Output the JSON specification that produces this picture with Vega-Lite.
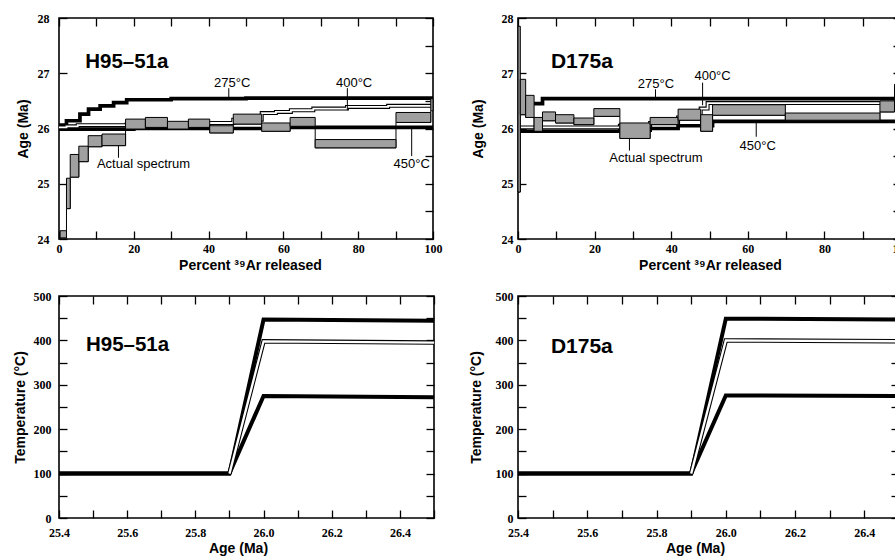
{
  "$schema": "https://vega.github.io/schema/vega-lite/v6.json",
  "padding": {"left": 12, "top": 11, "right": 0, "bottom": 0},
  "config": {
    "view": {"stroke": "black", "strokeWidth": 1.6},
    "font": "Liberation Sans",
    "axis": {"domain": false, "grid": false, "ticks": true, "tickSize": -8, "tickColor": "black", "tickWidth": 1.3,
      "labelFont": "Liberation Sans Narrow", "labelFontWeight": "bold", "labelFontSize": 12, "labelColor": "black",
      "labelFlush": false, "labelOverlap": false,
      "titleFont": "Liberation Sans", "titleFontWeight": "bold", "titleFontSize": 14, "titleColor": "black"},
    "text": {"font": "Liberation Sans", "color": "black"}
  },
  "datasets": {
    "h_models": [
      {"model": "275", "pct": 0, "age": 26.06}, {"model": "275", "pct": 2, "age": 26.14}, {"model": "275", "pct": 5.6, "age": 26.26},
      {"model": "275", "pct": 7.9, "age": 26.35}, {"model": "275", "pct": 11, "age": 26.41}, {"model": "275", "pct": 14.6, "age": 26.47},
      {"model": "275", "pct": 18.1, "age": 26.52}, {"model": "275", "pct": 30, "age": 26.54}, {"model": "275", "pct": 50, "age": 26.55},
      {"model": "275", "pct": 100, "age": 26.55},
      {"model": "400", "pct": 0, "age": 26.02}, {"model": "400", "pct": 2, "age": 26.04}, {"model": "400", "pct": 5, "age": 26.06},
      {"model": "400", "pct": 18, "age": 26.07}, {"model": "400", "pct": 30, "age": 26.08}, {"model": "400", "pct": 40, "age": 26.1},
      {"model": "400", "pct": 46.6, "age": 26.16}, {"model": "400", "pct": 54.2, "age": 26.28}, {"model": "400", "pct": 58, "age": 26.3},
      {"model": "400", "pct": 62, "age": 26.33}, {"model": "400", "pct": 68, "age": 26.36}, {"model": "400", "pct": 77, "age": 26.39},
      {"model": "400", "pct": 88, "age": 26.41}, {"model": "400", "pct": 100, "age": 26.43},
      {"model": "450", "pct": 0, "age": 25.99}, {"model": "450", "pct": 20, "age": 26.0}, {"model": "450", "pct": 60, "age": 26.02},
      {"model": "450", "pct": 100, "age": 26.01}
    ],
    "h_spec": [
      {"x1": 0.3, "x2": 2.0, "lo": 24.02, "hi": 24.15}, {"x1": 2.0, "x2": 3.0, "lo": 24.55, "hi": 25.1},
      {"x1": 3.0, "x2": 5.3, "lo": 25.12, "hi": 25.53}, {"x1": 5.3, "x2": 7.8, "lo": 25.4, "hi": 25.68},
      {"x1": 7.8, "x2": 11.5, "lo": 25.67, "hi": 25.87}, {"x1": 11.5, "x2": 17.8, "lo": 25.69, "hi": 25.9},
      {"x1": 17.8, "x2": 23.1, "lo": 25.99, "hi": 26.17}, {"x1": 23.1, "x2": 29.0, "lo": 26.02, "hi": 26.2},
      {"x1": 29.0, "x2": 34.6, "lo": 25.99, "hi": 26.13}, {"x1": 34.6, "x2": 40.3, "lo": 26.02, "hi": 26.17},
      {"x1": 40.3, "x2": 46.6, "lo": 25.92, "hi": 26.05}, {"x1": 46.6, "x2": 54.2, "lo": 26.08, "hi": 26.26},
      {"x1": 54.2, "x2": 61.8, "lo": 25.95, "hi": 26.1}, {"x1": 61.8, "x2": 68.5, "lo": 26.04, "hi": 26.2},
      {"x1": 68.5, "x2": 90.1, "lo": 25.65, "hi": 25.8}, {"x1": 90.1, "x2": 99.4, "lo": 26.11, "hi": 26.29},
      {"x1": 99.4, "x2": 100, "lo": 26.32, "hi": 26.54}
    ],
    "h_ptr": [
      {"pct": 45.4, "a1": 26.73, "a2": 26.57}, {"pct": 77.1, "a1": 26.73, "a2": 26.33},
      {"pct": 94.3, "a1": 25.99, "a2": 25.5}, {"pct": 15.9, "a1": 25.69, "a2": 25.47}
    ],
    "h_labels": [
      {"pct": 46.3, "age": 26.82, "label": "275°C"}, {"pct": 78.9, "age": 26.82, "label": "400°C"},
      {"pct": 94.3, "age": 25.35, "label": "450°C"}, {"pct": 22.6, "age": 25.35, "label": "Actual spectrum"}
    ],
    "h_title": [{"pct": 7.0, "age": 27.2, "label": "H95–51a"}],
    "d_models": [
      {"model": "275", "pct": 0, "age": 26.3}, {"model": "275", "pct": 0.8, "age": 26.45}, {"model": "275", "pct": 6.4, "age": 26.54},
      {"model": "275", "pct": 100, "age": 26.55},
      {"model": "400", "pct": 0, "age": 26.02}, {"model": "400", "pct": 26.6, "age": 26.05}, {"model": "400", "pct": 34.5, "age": 26.1},
      {"model": "400", "pct": 41.8, "age": 26.2}, {"model": "400", "pct": 47.7, "age": 26.36}, {"model": "400", "pct": 49.5, "age": 26.46},
      {"model": "400", "pct": 100, "age": 26.46},
      {"model": "450", "pct": 0, "age": 25.95}, {"model": "450", "pct": 26.6, "age": 25.97}, {"model": "450", "pct": 34.5, "age": 26.0},
      {"model": "450", "pct": 41.8, "age": 26.05}, {"model": "450", "pct": 50.8, "age": 26.13}, {"model": "450", "pct": 100, "age": 26.14}
    ],
    "d_spec": [
      {"x1": 0, "x2": 0.6, "lo": 24.85, "hi": 27.85}, {"x1": 0.6, "x2": 2.0, "lo": 26.25, "hi": 26.89},
      {"x1": 2.0, "x2": 4.2, "lo": 26.2, "hi": 26.6}, {"x1": 4.2, "x2": 6.4, "lo": 25.95, "hi": 26.2},
      {"x1": 6.4, "x2": 9.8, "lo": 26.14, "hi": 26.3}, {"x1": 9.8, "x2": 14.6, "lo": 26.1, "hi": 26.25},
      {"x1": 14.6, "x2": 19.8, "lo": 26.07, "hi": 26.19}, {"x1": 19.8, "x2": 26.6, "lo": 26.22, "hi": 26.36},
      {"x1": 26.6, "x2": 34.5, "lo": 25.82, "hi": 26.1}, {"x1": 34.5, "x2": 41.8, "lo": 26.07, "hi": 26.2},
      {"x1": 41.8, "x2": 47.7, "lo": 26.15, "hi": 26.35}, {"x1": 47.7, "x2": 50.8, "lo": 25.95, "hi": 26.25},
      {"x1": 50.8, "x2": 69.8, "lo": 26.24, "hi": 26.43}, {"x1": 69.8, "x2": 94.5, "lo": 26.15, "hi": 26.28},
      {"x1": 94.5, "x2": 98.3, "lo": 26.3, "hi": 26.5}, {"x1": 98.3, "x2": 100, "lo": 26.5, "hi": 26.8}
    ],
    "d_ptr": [
      {"pct": 35.9, "a1": 26.71, "a2": 26.57}, {"pct": 48.2, "a1": 26.83, "a2": 26.42},
      {"pct": 62.2, "a1": 26.13, "a2": 25.85}, {"pct": 29.1, "a1": 25.82, "a2": 25.6}
    ],
    "d_labels": [
      {"pct": 36.0, "age": 26.8, "label": "275°C"}, {"pct": 50.8, "age": 26.95, "label": "400°C"},
      {"pct": 62.6, "age": 25.69, "label": "450°C"}, {"pct": 36.0, "age": 25.47, "label": "Actual spectrum"}
    ],
    "d_title": [{"pct": 8.6, "age": 27.21, "label": "D175a"}],
    "h_tt": [
      {"model": "275", "age": 25.4, "T": 100}, {"model": "275", "age": 25.9, "T": 100}, {"model": "275", "age": 26.0, "T": 275}, {"model": "275", "age": 26.5, "T": 272},
      {"model": "450", "age": 25.4, "T": 100}, {"model": "450", "age": 25.9, "T": 100}, {"model": "450", "age": 26.0, "T": 447}, {"model": "450", "age": 26.5, "T": 444},
      {"model": "400", "age": 25.9, "T": 100}, {"model": "400", "age": 26.0, "T": 398}, {"model": "400", "age": 26.5, "T": 395}
    ],
    "h_tt_title": [{"age": 25.479, "T": 390, "label": "H95–51a"}],
    "d_tt": [
      {"model": "275", "age": 25.4, "T": 100}, {"model": "275", "age": 25.9, "T": 100}, {"model": "275", "age": 26.0, "T": 276}, {"model": "275", "age": 26.5, "T": 275},
      {"model": "450", "age": 25.4, "T": 100}, {"model": "450", "age": 25.9, "T": 100}, {"model": "450", "age": 26.0, "T": 449}, {"model": "450", "age": 26.5, "T": 447},
      {"model": "400", "age": 25.9, "T": 100}, {"model": "400", "age": 26.0, "T": 400}, {"model": "400", "age": 26.5, "T": 398}
    ],
    "d_tt_title": [{"age": 25.495, "T": 385, "label": "D175a"}]
  },
  "columns": 2,
  "spacing": {"row": 57, "column": 84},
  "bounds": "flush",
  "align": "each",
  "concat": [
    {
      "width": 374, "height": 221,
      "resolve": {"axis": {"x": "independent", "y": "independent"}},
      "layer": [
        {"data": {"name": "h_models"}, "transform": [{"filter": "datum.model != '400'"}],
          "mark": {"type": "line", "interpolate": "step-after", "color": "black", "strokeWidth": 3.7, "clip": true},
          "encoding": {
            "x": {"field": "pct", "type": "quantitative", "scale": {"domain": [0, 100], "nice": false, "zero": false},
              "axis": {"orient": "bottom", "values": [0,10,20,30,40,50,60,70,80,90,100], "format": "d", "labelExpr": "datum.value % 20 == 0 ? datum.label : ''",
                "labelPadding": 12, "title": "Percent ³⁹Ar released", "titleX": 191, "titleY": 26.5, "titleBaseline": "middle",
                "encode": {"ticks": {"update": {"y2": {"signal": "datum.value % 20 == 0 ? -8 : -4"}}}}}},
            "y": {"field": "age", "type": "quantitative", "scale": {"domain": [24, 28], "nice": false, "zero": false},
              "axis": {"orient": "left", "values": [24,24.5,25,25.5,26,26.5,27,27.5,28], "format": "d", "labelExpr": "datum.value % 1 == 0 ? datum.label : ''",
                "labelPadding": 18, "title": "Age (Ma)", "titleX": -36, "titleBaseline": "middle",
                "encode": {"ticks": {"update": {"x2": {"signal": "datum.value % 1 == 0 ? 8 : 4"}}}}}},
            "detail": {"field": "model"}
          }},
        {"data": {"name": "h_models"}, "transform": [{"filter": "datum.model == '400'"}],
          "mark": {"type": "line", "interpolate": "step-after", "color": "black", "strokeWidth": 4, "clip": true},
          "encoding": {
            "x": {"field": "pct", "type": "quantitative", "scale": {"domain": [0, 100], "nice": false, "zero": false}, "axis": null},
            "y": {"field": "age", "type": "quantitative", "scale": {"domain": [24, 28], "nice": false, "zero": false}, "axis": null}
          }},
        {"data": {"name": "h_models"}, "transform": [{"filter": "datum.model == '400'"}],
          "mark": {"type": "line", "interpolate": "step-after", "color": "white", "strokeWidth": 1.8, "clip": true},
          "encoding": {
            "x": {"field": "pct", "type": "quantitative", "scale": {"domain": [0, 100], "nice": false, "zero": false}, "axis": null},
            "y": {"field": "age", "type": "quantitative", "scale": {"domain": [24, 28], "nice": false, "zero": false}, "axis": null}
          }},
        {"data": {"name": "h_spec"},
          "mark": {"type": "line", "interpolate": "step-after", "color": "black", "strokeWidth": 1, "clip": true},
          "encoding": {
            "x": {"field": "x1", "type": "quantitative", "scale": {"domain": [0, 100], "nice": false, "zero": false}, "axis": null},
            "y": {"field": "lo", "type": "quantitative", "scale": {"domain": [24, 28], "nice": false, "zero": false}, "axis": null}
          }},
        {"data": {"name": "h_spec"},
          "mark": {"type": "rect", "fill": "#a0a0a0", "stroke": "black", "strokeWidth": 1},
          "encoding": {
            "x": {"field": "x1", "type": "quantitative", "scale": {"domain": [0, 100], "nice": false, "zero": false}, "axis": null},
            "x2": {"field": "x2"},
            "y": {"field": "lo", "type": "quantitative", "scale": {"domain": [24, 28], "nice": false, "zero": false}, "axis": null},
            "y2": {"field": "hi"}
          }},
        {"data": {"name": "h_ptr"},
          "mark": {"type": "rule", "color": "black", "strokeWidth": 1},
          "encoding": {
            "x": {"field": "pct", "type": "quantitative", "scale": {"domain": [0, 100], "nice": false, "zero": false},
              "axis": {"orient": "top", "values": [0,10,20,30,40,50,60,70,80,90,100], "labels": false, "title": null,
                "encode": {"ticks": {"update": {"y2": {"signal": "datum.value % 20 == 0 ? 8 : 4"}}}}}},
            "y": {"field": "a1", "type": "quantitative", "scale": {"domain": [24, 28], "nice": false, "zero": false},
              "axis": {"orient": "right", "values": [24,24.5,25,25.5,26,26.5,27,27.5,28], "labels": false, "title": null,
                "encode": {"ticks": {"update": {"x2": {"signal": "datum.value % 1 == 0 ? -8 : -4"}}}}}},
            "y2": {"field": "a2"}
          }},
        {"data": {"name": "h_labels"},
          "mark": {"type": "text", "fontSize": 13, "align": "center", "baseline": "middle"},
          "encoding": {
            "x": {"field": "pct", "type": "quantitative", "scale": {"domain": [0, 100], "nice": false, "zero": false}, "axis": null},
            "y": {"field": "age", "type": "quantitative", "scale": {"domain": [24, 28], "nice": false, "zero": false}, "axis": null},
            "text": {"field": "label"}
          }},
        {"data": {"name": "h_title"},
          "mark": {"type": "text", "fontSize": 20.5, "fontWeight": "bold", "align": "left", "baseline": "middle"},
          "encoding": {
            "x": {"field": "pct", "type": "quantitative", "scale": {"domain": [0, 100], "nice": false, "zero": false}, "axis": null},
            "y": {"field": "age", "type": "quantitative", "scale": {"domain": [24, 28], "nice": false, "zero": false}, "axis": null},
            "text": {"field": "label"}
          }}
      ]
    },
    {
      "width": 383, "height": 221,
      "resolve": {"axis": {"x": "independent", "y": "independent"}},
      "layer": [
        {"data": {"name": "d_models"}, "transform": [{"filter": "datum.model != '400'"}],
          "mark": {"type": "line", "interpolate": "step-after", "color": "black", "strokeWidth": 3.7, "clip": true},
          "encoding": {
            "x": {"field": "pct", "type": "quantitative", "scale": {"domain": [0, 100], "nice": false, "zero": false},
              "axis": {"orient": "bottom", "values": [0,10,20,30,40,50,60,70,80,90,100], "format": "d", "labelExpr": "datum.value % 20 == 0 ? datum.label : ''",
                "labelPadding": 12, "title": "Percent ³⁹Ar released", "titleX": 192, "titleY": 26.5, "titleBaseline": "middle",
                "encode": {"ticks": {"update": {"y2": {"signal": "datum.value % 20 == 0 ? -8 : -4"}}}}}},
            "y": {"field": "age", "type": "quantitative", "scale": {"domain": [24, 28], "nice": false, "zero": false},
              "axis": {"orient": "left", "values": [24,24.5,25,25.5,26,26.5,27,27.5,28], "format": "d", "labelExpr": "datum.value % 1 == 0 ? datum.label : ''",
                "labelPadding": 13, "title": "Age (Ma)", "titleX": -40, "titleBaseline": "middle",
                "encode": {"ticks": {"update": {"x2": {"signal": "datum.value % 1 == 0 ? 8 : 4"}}}}}},
            "detail": {"field": "model"}
          }},
        {"data": {"name": "d_models"}, "transform": [{"filter": "datum.model == '400'"}],
          "mark": {"type": "line", "interpolate": "step-after", "color": "black", "strokeWidth": 4, "clip": true},
          "encoding": {
            "x": {"field": "pct", "type": "quantitative", "scale": {"domain": [0, 100], "nice": false, "zero": false}, "axis": null},
            "y": {"field": "age", "type": "quantitative", "scale": {"domain": [24, 28], "nice": false, "zero": false}, "axis": null}
          }},
        {"data": {"name": "d_models"}, "transform": [{"filter": "datum.model == '400'"}],
          "mark": {"type": "line", "interpolate": "step-after", "color": "white", "strokeWidth": 1.8, "clip": true},
          "encoding": {
            "x": {"field": "pct", "type": "quantitative", "scale": {"domain": [0, 100], "nice": false, "zero": false}, "axis": null},
            "y": {"field": "age", "type": "quantitative", "scale": {"domain": [24, 28], "nice": false, "zero": false}, "axis": null}
          }},
        {"data": {"name": "d_spec"},
          "mark": {"type": "line", "interpolate": "step-after", "color": "black", "strokeWidth": 1, "clip": true},
          "encoding": {
            "x": {"field": "x1", "type": "quantitative", "scale": {"domain": [0, 100], "nice": false, "zero": false}, "axis": null},
            "y": {"field": "lo", "type": "quantitative", "scale": {"domain": [24, 28], "nice": false, "zero": false}, "axis": null}
          }},
        {"data": {"name": "d_spec"},
          "mark": {"type": "rect", "fill": "#a0a0a0", "stroke": "black", "strokeWidth": 1},
          "encoding": {
            "x": {"field": "x1", "type": "quantitative", "scale": {"domain": [0, 100], "nice": false, "zero": false}, "axis": null},
            "x2": {"field": "x2"},
            "y": {"field": "lo", "type": "quantitative", "scale": {"domain": [24, 28], "nice": false, "zero": false}, "axis": null},
            "y2": {"field": "hi"}
          }},
        {"data": {"name": "d_ptr"},
          "mark": {"type": "rule", "color": "black", "strokeWidth": 1},
          "encoding": {
            "x": {"field": "pct", "type": "quantitative", "scale": {"domain": [0, 100], "nice": false, "zero": false},
              "axis": {"orient": "top", "values": [0,10,20,30,40,50,60,70,80,90,100], "labels": false, "title": null,
                "encode": {"ticks": {"update": {"y2": {"signal": "datum.value % 20 == 0 ? 8 : 4"}}}}}},
            "y": {"field": "a1", "type": "quantitative", "scale": {"domain": [24, 28], "nice": false, "zero": false},
              "axis": {"orient": "right", "values": [24,24.5,25,25.5,26,26.5,27,27.5,28], "labels": false, "title": null,
                "encode": {"ticks": {"update": {"x2": {"signal": "datum.value % 1 == 0 ? -8 : -4"}}}}}},
            "y2": {"field": "a2"}
          }},
        {"data": {"name": "d_labels"},
          "mark": {"type": "text", "fontSize": 13, "align": "center", "baseline": "middle"},
          "encoding": {
            "x": {"field": "pct", "type": "quantitative", "scale": {"domain": [0, 100], "nice": false, "zero": false}, "axis": null},
            "y": {"field": "age", "type": "quantitative", "scale": {"domain": [24, 28], "nice": false, "zero": false}, "axis": null},
            "text": {"field": "label"}
          }},
        {"data": {"name": "d_title"},
          "mark": {"type": "text", "fontSize": 21, "fontWeight": "bold", "align": "left", "baseline": "middle"},
          "encoding": {
            "x": {"field": "pct", "type": "quantitative", "scale": {"domain": [0, 100], "nice": false, "zero": false}, "axis": null},
            "y": {"field": "age", "type": "quantitative", "scale": {"domain": [24, 28], "nice": false, "zero": false}, "axis": null},
            "text": {"field": "label"}
          }}
      ]
    },
    {
      "width": 375, "height": 222,
      "resolve": {"axis": {"x": "independent", "y": "independent"}},
      "layer": [
        {"data": {"name": "h_tt"}, "transform": [{"filter": "datum.model != '400'"}],
          "mark": {"type": "line", "color": "black", "strokeWidth": 4, "clip": true},
          "encoding": {
            "x": {"field": "age", "type": "quantitative", "scale": {"domain": [25.4, 26.5], "nice": false, "zero": false},
              "axis": {"orient": "bottom", "values": [25.4,25.5,25.6,25.7,25.8,25.9,26.0,26.1,26.2,26.3,26.4,26.5], "format": ".1f",
                "labelExpr": "round(datum.value*10) % 2 == 0 ? datum.label : ''",
                "labelPadding": 17, "title": "Age (Ma)", "titleX": 179, "titleY": 30, "titleBaseline": "middle",
                "encode": {"ticks": {"update": {"y2": {"signal": "round(datum.value*10) % 2 == 0 ? -8 : -4"}}}}}},
            "y": {"field": "T", "type": "quantitative", "scale": {"domain": [0, 500], "nice": false},
              "axis": {"orient": "left", "values": [0,50,100,150,200,250,300,350,400,450,500], "format": "d", "labelExpr": "datum.value % 100 == 0 ? datum.label : ''",
                "labelPadding": 16, "title": "Temperature (°C)", "titleX": -39, "titleBaseline": "middle",
                "encode": {"ticks": {"update": {"x2": {"signal": "datum.value % 100 == 0 ? 8 : 4"}}}}}},
            "detail": {"field": "model"}
          }},
        {"data": {"name": "h_tt"}, "transform": [{"filter": "datum.model == '400'"}],
          "mark": {"type": "line", "color": "black", "strokeWidth": 4.5, "clip": true},
          "encoding": {
            "x": {"field": "age", "type": "quantitative", "scale": {"domain": [25.4, 26.5], "nice": false, "zero": false},
              "axis": {"orient": "top", "values": [25.4,25.5,25.6,25.7,25.8,25.9,26.0,26.1,26.2,26.3,26.4,26.5], "labels": false, "title": null,
                "encode": {"ticks": {"update": {"y2": {"signal": "round(datum.value*10) % 2 == 0 ? 8 : 4"}}}}}},
            "y": {"field": "T", "type": "quantitative", "scale": {"domain": [0, 500], "nice": false},
              "axis": {"orient": "right", "values": [0,50,100,150,200,250,300,350,400,450,500], "labels": false, "title": null,
                "encode": {"ticks": {"update": {"x2": {"signal": "datum.value % 100 == 0 ? -8 : -4"}}}}}}
          }},
        {"data": {"name": "h_tt"}, "transform": [{"filter": "datum.model == '400'"}],
          "mark": {"type": "line", "color": "white", "strokeWidth": 2.3, "clip": true},
          "encoding": {
            "x": {"field": "age", "type": "quantitative", "scale": {"domain": [25.4, 26.5], "nice": false, "zero": false}, "axis": null},
            "y": {"field": "T", "type": "quantitative", "scale": {"domain": [0, 500], "nice": false}, "axis": null}
          }},
        {"data": {"name": "h_tt_title"},
          "mark": {"type": "text", "fontSize": 20.5, "fontWeight": "bold", "align": "left", "baseline": "middle"},
          "encoding": {
            "x": {"field": "age", "type": "quantitative", "scale": {"domain": [25.4, 26.5], "nice": false, "zero": false}, "axis": null},
            "y": {"field": "T", "type": "quantitative", "scale": {"domain": [0, 500], "nice": false}, "axis": null},
            "text": {"field": "label"}
          }}
      ]
    },
    {
      "width": 381, "height": 222,
      "resolve": {"axis": {"x": "independent", "y": "independent"}},
      "layer": [
        {"data": {"name": "d_tt"}, "transform": [{"filter": "datum.model != '400'"}],
          "mark": {"type": "line", "color": "black", "strokeWidth": 4, "clip": true},
          "encoding": {
            "x": {"field": "age", "type": "quantitative", "scale": {"domain": [25.4, 26.5], "nice": false, "zero": false},
              "axis": {"orient": "bottom", "values": [25.4,25.5,25.6,25.7,25.8,25.9,26.0,26.1,26.2,26.3,26.4,26.5], "format": ".1f",
                "labelExpr": "round(datum.value*10) % 2 == 0 ? datum.label : ''",
                "labelPadding": 17, "title": "Age (Ma)", "titleX": 177, "titleY": 30, "titleBaseline": "middle",
                "encode": {"ticks": {"update": {"y2": {"signal": "round(datum.value*10) % 2 == 0 ? -8 : -4"}}}}}},
            "y": {"field": "T", "type": "quantitative", "scale": {"domain": [0, 500], "nice": false},
              "axis": {"orient": "left", "values": [0,50,100,150,200,250,300,350,400,450,500], "format": "d", "labelExpr": "datum.value % 100 == 0 ? datum.label : ''",
                "labelPadding": 13, "title": "Temperature (°C)", "titleX": -42, "titleBaseline": "middle",
                "encode": {"ticks": {"update": {"x2": {"signal": "datum.value % 100 == 0 ? 8 : 4"}}}}}},
            "detail": {"field": "model"}
          }},
        {"data": {"name": "d_tt"}, "transform": [{"filter": "datum.model == '400'"}],
          "mark": {"type": "line", "color": "black", "strokeWidth": 4.5, "clip": true},
          "encoding": {
            "x": {"field": "age", "type": "quantitative", "scale": {"domain": [25.4, 26.5], "nice": false, "zero": false},
              "axis": {"orient": "top", "values": [25.4,25.5,25.6,25.7,25.8,25.9,26.0,26.1,26.2,26.3,26.4,26.5], "labels": false, "title": null,
                "encode": {"ticks": {"update": {"y2": {"signal": "round(datum.value*10) % 2 == 0 ? 8 : 4"}}}}}},
            "y": {"field": "T", "type": "quantitative", "scale": {"domain": [0, 500], "nice": false},
              "axis": {"orient": "right", "values": [0,50,100,150,200,250,300,350,400,450,500], "labels": false, "title": null,
                "encode": {"ticks": {"update": {"x2": {"signal": "datum.value % 100 == 0 ? -8 : -4"}}}}}}
          }},
        {"data": {"name": "d_tt"}, "transform": [{"filter": "datum.model == '400'"}],
          "mark": {"type": "line", "color": "white", "strokeWidth": 2.3, "clip": true},
          "encoding": {
            "x": {"field": "age", "type": "quantitative", "scale": {"domain": [25.4, 26.5], "nice": false, "zero": false}, "axis": null},
            "y": {"field": "T", "type": "quantitative", "scale": {"domain": [0, 500], "nice": false}, "axis": null}
          }},
        {"data": {"name": "d_tt_title"},
          "mark": {"type": "text", "fontSize": 21, "fontWeight": "bold", "align": "left", "baseline": "middle"},
          "encoding": {
            "x": {"field": "age", "type": "quantitative", "scale": {"domain": [25.4, 26.5], "nice": false, "zero": false}, "axis": null},
            "y": {"field": "T", "type": "quantitative", "scale": {"domain": [0, 500], "nice": false}, "axis": null},
            "text": {"field": "label"}
          }}
      ]
    }
  ]
}
